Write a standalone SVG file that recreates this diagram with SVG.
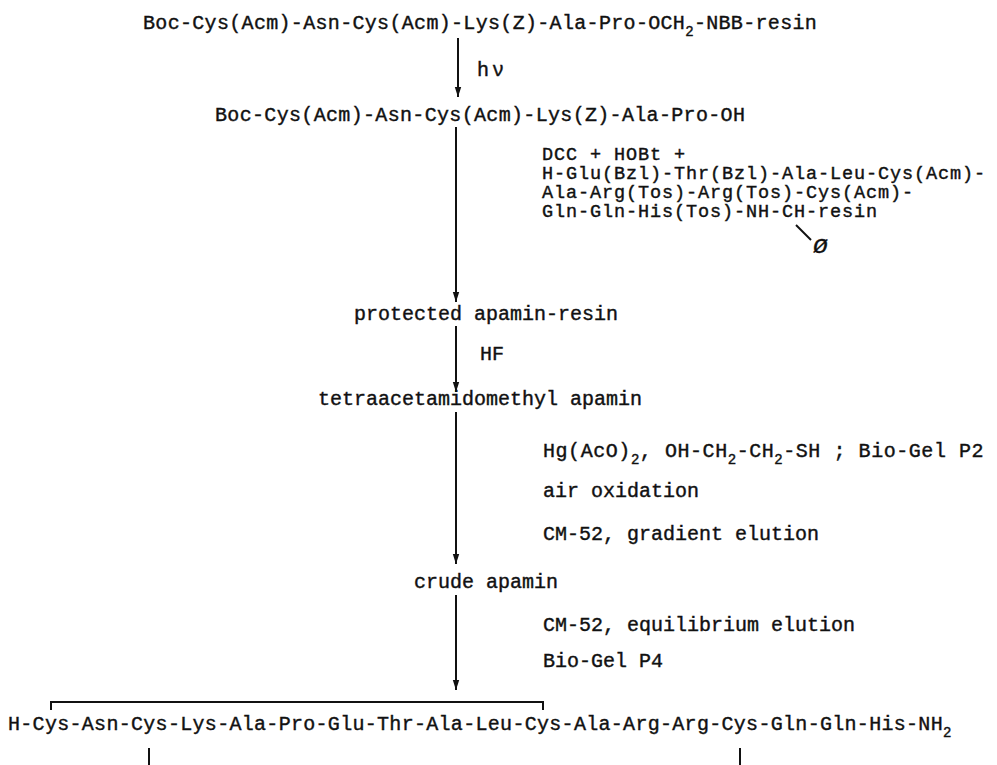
<svg xmlns="http://www.w3.org/2000/svg" width="997" height="765" viewBox="0 0 997 765">
<defs>
<style>
.t{font-family:'Liberation Mono','DejaVu Sans Mono',monospace;font-size:20px;fill:#111;stroke:#111;stroke-width:0.4}
.s{font-size:14px}
.b{font-size:18.5px;letter-spacing:0.9px}
.ph{font-size:25px;font-style:italic}
.ln{stroke:#111;stroke-width:2;fill:none}
</style>
<marker id="ah" markerUnits="userSpaceOnUse" markerWidth="10" markerHeight="8" refX="10" refY="4" orient="auto">
<path d="M0,0.8 L10,4 L0,7.2 z" fill="#111"/>
</marker>
</defs>
<rect width="997" height="765" fill="#fff"/>
<g id="n1"><text class="t" x="143" y="29" letter-spacing="0.32">Boc-Cys(Acm)-Asn-Cys(Acm)-Lys(Z)-Ala-Pro-OCH<tspan class="s" dy="7">2</tspan><tspan dy="-7">-NBB-resin</tspan></text></g>
<g id="l1"><text class="t" x="477" y="76" letter-spacing="3">hν</text></g>
<g id="n2"><text class="t" x="215" y="121" letter-spacing="0.33">Boc-Cys(Acm)-Asn-Cys(Acm)-Lys(Z)-Ala-Pro-OH</text></g>
<g id="l2">
<text class="t b" x="542" y="160">DCC + HOBt +</text>
<text class="t b" x="542" y="179">H-Glu(Bzl)-Thr(Bzl)-Ala-Leu-Cys(Acm)-</text>
<text class="t b" x="542" y="198">Ala-Arg(Tos)-Arg(Tos)-Cys(Acm)-</text>
<text class="t b" x="542" y="217">Gln-Gln-His(Tos)-NH-CH-resin</text>
<line class="ln" x1="796" y1="225" x2="811" y2="240"/>
<text class="t ph" x="813" y="253">ø</text>
</g>
<g id="n3"><text class="t" x="354" y="320">protected apamin-resin</text></g>
<g id="l3"><text class="t" x="480" y="360">HF</text></g>
<g id="n4"><text class="t" x="318" y="405">tetraacetamidomethyl apamin</text></g>
<g id="l4">
<text class="t" x="543" y="457" letter-spacing="0.55">Hg(AcO)<tspan class="s" dy="7">2</tspan><tspan dy="-7">, OH-CH</tspan><tspan class="s" dy="7">2</tspan><tspan dy="-7">-CH</tspan><tspan class="s" dy="7">2</tspan><tspan dy="-7">-SH ; Bio-Gel P2</tspan></text>
<text class="t" x="543" y="497">air oxidation</text>
<text class="t" x="543" y="540">CM-52, gradient elution</text>
</g>
<g id="n5"><text class="t" x="414" y="588">crude apamin</text></g>
<g id="l5">
<text class="t" x="543" y="631">CM-52, equilibrium elution</text>
<text class="t" x="543" y="667">Bio-Gel P4</text>
</g>
<g id="n6">
<text class="t" x="8" y="730" letter-spacing="0.3">H-Cys-Asn-Cys-Lys-Ala-Pro-Glu-Thr-Ala-Leu-Cys-Ala-Arg-Arg-Cys-Gln-Gln-His-NH<tspan class="s" dy="7">2</tspan></text>
<path class="ln" d="M51,710 V702 H543 V710"/>
<path class="ln" d="M149,748 V765 M740,748 V765"/>
</g>
<g id="connectors">
<line class="ln" x1="458" y1="38" x2="458" y2="97" marker-end="url(#ah)"/>
<line class="ln" x1="456" y1="127" x2="456" y2="302" marker-end="url(#ah)"/>
<line class="ln" x1="456" y1="326" x2="456" y2="392" marker-end="url(#ah)"/>
<line class="ln" x1="456" y1="412" x2="456" y2="564" marker-end="url(#ah)"/>
<line class="ln" x1="456" y1="595" x2="456" y2="690" marker-end="url(#ah)"/>
</g>
</svg>
